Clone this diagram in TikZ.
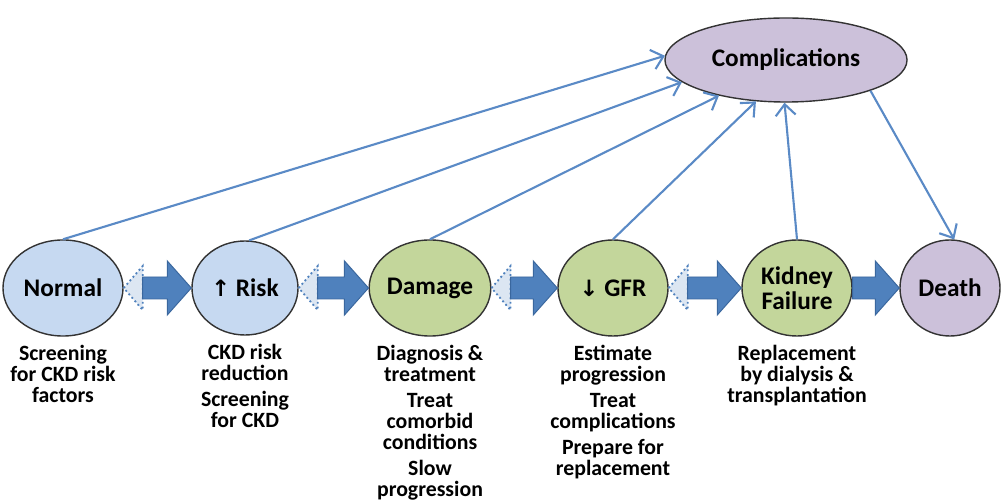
\documentclass[tikz,border=0pt]{standalone}
\usepackage{fontspec}
\setmainfont{Carlito}
\newfontfamily\arrowfont{DejaVu Sans}
\usetikzlibrary{arrows.meta,positioning,calc,shapes.geometric}

\definecolor{stageblue}{HTML}{C6D9F1}
\definecolor{stagegreen}{HTML}{C3D69B}
\definecolor{stagepurple}{HTML}{CCC1DA}
\definecolor{arrowblue}{HTML}{4F81BD}
\definecolor{arrowedge}{HTML}{3A679E}
\definecolor{tailblue}{HTML}{DCE6F2}
\definecolor{linkblue}{HTML}{5A8AC6}

\tikzset{
  stage/.style={draw=black!80,line width=1pt,ellipse,inner sep=0pt,minimum width=2.75cm,minimum height=2.4cm,align=center,font=\fontsize{18}{17.5}\selectfont\bfseries},
  care/.style={align=center,inner sep=0pt,font=\fontsize{15.5}{15}\selectfont\bfseries},
  link/.style={draw=linkblue,line width=1.5pt,-{Straight Barb[length=2.8mm,width=5mm]}},
  fatarrow/.style={fill=arrowblue,draw=arrowedge,line width=0.7pt},
  dottail/.style={fill=tailblue,draw=arrowblue,dotted,line width=1.3pt}
}

% fat arrow from one stage to the next (#1 = where the body starts)
\newcommand{\stagearrow}[3][19]{%
  \filldraw[fatarrow] ($(#2.east)+(#1,-11)$) -- ($(#3.west)+(-24,-11)$) -- ($(#3.west)+(-24,-27)$)
    -- (#3.west) -- ($(#3.west)+(-24,27)$) -- ($(#3.west)+(-24,11)$) -- ($(#2.east)+(#1,11)$) -- cycle;}
\newcommand{\dottail}[1]{%
  \filldraw[dottail] (#1.east) -- ++(19,-22) -- ++(0,44) -- cycle;}

\begin{document}
\begin{tikzpicture}[x=0.025cm,y=-0.025cm]
  \useasboundingbox (0,0) rectangle (1001,503);
  % stages
  \node[stage,fill=stageblue,minimum width=3cm] (normal) at (63,288) {Normal};
  \node[stage,fill=stageblue,minimum width=2.65cm,minimum height=2.35cm] (risk) at (245,288) {{\arrowfont\bfseries\fontsize{16}{16}\selectfont ↑} Risk};
  \node[stage,fill=stagegreen] (damage) at (430,288) {Damage};
  \node[stage,fill=stagegreen] (gfr) at (613,288) {{\arrowfont\bfseries\fontsize{16}{16}\selectfont ↓} GFR};
  \node[stage,fill=stagegreen] (kidney) at (797,288) {Kidney\\Failure};
  \node[stage,fill=stagepurple,minimum width=2.5cm] (death) at (950,288) {Death};
  \node[stage,fill=stagepurple,minimum width=6.05cm,minimum height=2.1cm] (compl) at (786,60) {Complications};

  % care below each stage
  \node[care,below=0.2cm of normal] (normalcare) {Screening\\for CKD risk\\factors};
  \node[care,below=0.2cm of risk] (riskcare) {CKD risk\\reduction\\[3.5pt]Screening\\for CKD};
  \node[care,below=0.2cm of damage] (damagecare) {Diagnosis \&\\treatment\\[3.5pt]Treat\\comorbid\\conditions\\[3.5pt]Slow\\progression};
  \node[care,below=0.2cm of gfr] (gfrcare) {Estimate\\progression\\[3.5pt]Treat\\complications\\[3.5pt]Prepare for\\replacement};
  \node[care,below=0.2cm of kidney] (kidneycare) {Replacement\\by dialysis \&\\transplantation};

  % progression arrows
  \dottail{normal}
  \stagearrow{normal}{risk}
  \dottail{risk}
  \stagearrow{risk}{damage}
  \dottail{damage}
  \stagearrow{damage}{gfr}
  \dottail{gfr}
  \stagearrow{gfr}{kidney}
  \stagearrow[0]{kidney}{death}

  % links to complications
  \draw[link] (normal.north) -- (compl.178);
  \draw[link] (risk.85) -- (compl.192);
  \draw[link] (damage.north) -- (compl.208);
  \draw[link] (gfr.north) -- (compl.234);
  \draw[link] (kidney.north) -- (compl.268);
  \draw[link] (compl.340) -- (death.85);
\end{tikzpicture}
\end{document}
